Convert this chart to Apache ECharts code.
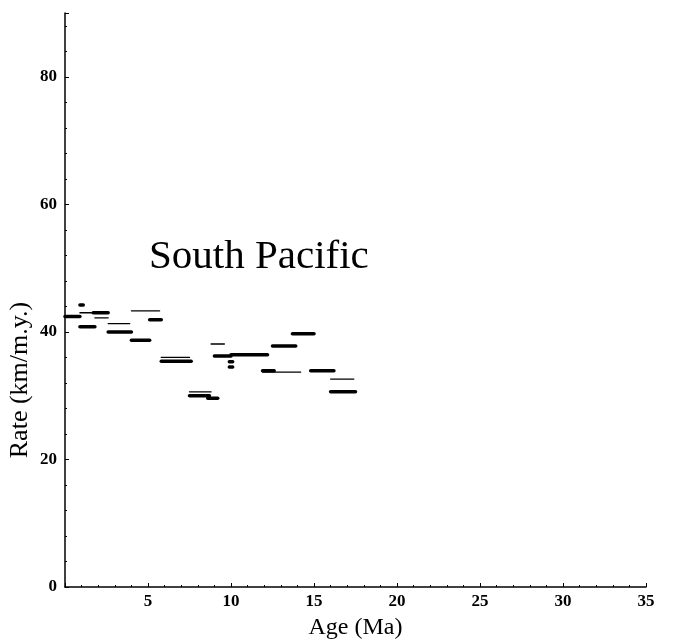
<!DOCTYPE html>
<html>
<head>
<meta charset="utf-8">
<script src="https://cdn.jsdelivr.net/npm/echarts@6/dist/echarts.min.js"></script>
<style>
  html, body { margin: 0; padding: 0; background: #fff; }
  #chart { width: 673px; height: 639px; }
</style>
</head>
<body>
<div id="chart"></div>
<script>
// segment start age, end age (Ma), rate (km/m.y.), thick (1) or thin (0)
var ageFrom = [0.0, 0.9, 0.9, 0.9, 1.7, 1.8, 2.6, 2.6, 4.0, 4.0, 5.1, 5.8, 5.8, 7.5, 7.5, 8.6, 8.8, 9.0, 9.9, 9.9, 10.0, 11.9, 11.9, 12.5, 13.7, 14.8, 16.0, 16.0];
var ageTo   = [0.9, 1.1, 1.8, 1.7, 2.6, 2.6, 3.9, 4.0, 5.1, 5.7, 5.8, 7.5, 7.6, 8.8, 8.7, 9.2, 9.6, 10.0, 10.1, 10.1, 12.2, 14.2, 12.6, 13.9, 15.0, 16.2, 17.4, 17.5];
var rates   = [42.4, 44.2, 40.8, 43.0, 43.0, 42.2, 41.3, 40.0, 38.7, 43.3, 41.9, 36.0, 35.4, 30.6, 30.0, 29.6, 38.1, 36.2, 35.3, 34.5, 36.4, 33.7, 33.9, 37.8, 39.7, 33.9, 32.6, 30.6];
var thick   = [1, 1, 1, 0, 1, 0, 0, 1, 1, 0, 1, 0, 1, 0, 1, 1, 0, 1, 1, 1, 1, 0, 1, 1, 1, 1, 0, 1];

var xTicks = [5, 10, 15, 20, 25, 30, 35];
var yTicks = [0, 20, 40, 60, 80];

var chartDom = document.getElementById('chart');
var myChart = echarts.init(chartDom);

var segData = [];
for (var i = 0; i < rates.length; i++) {
    segData.push([ageFrom[i], ageTo[i], rates[i], thick[i]]);
}

var serif = '"Liberation Serif", "DejaVu Serif", serif';

var option = {
    animation: false,
    backgroundColor: '#fff',
    title: {
        text: 'South Pacific',
        left: 144,
        top: 232,
        textStyle: {
            fontFamily: serif,
            fontSize: 41,
            fontWeight: 'normal',
            color: '#000'
        }
    },
    grid: {
        left: 65,
        right: 27,
        top: 13,
        bottom: 52,
        outerBoundsMode: 'none',
        containLabel: false
    },
    xAxis: {
        type: 'value',
        min: 0,
        max: 35,
        interval: 5,
        name: 'Age (Ma)',
        nameLocation: 'middle',
        nameGap: 29,
        nameTextStyle: { fontFamily: serif, fontSize: 24, color: '#000' },
        axisLine: { lineStyle: { color: '#000', width: 1.5 } },
        axisTick: { inside: true, length: 4, lineStyle: { color: '#000' } },
        minorTick: { show: true, splitNumber: 5, length: 2, lineStyle: { color: '#000' } },
        splitLine: { show: false },
        axisLabel: {
            fontFamily: serif,
            fontSize: 17,
            fontWeight: 'bold',
            color: '#000',
            margin: 6,
            formatter: function (v) {
                return xTicks.indexOf(v) >= 0 ? String(v) : '';
            }
        }
    },
    yAxis: {
        type: 'value',
        min: 0,
        max: 90,
        interval: 20,
        name: 'Rate (km/m.y.)',
        nameLocation: 'middle',
        nameGap: 32,
        nameMoveOverlap: false,
        nameTextStyle: {
            fontFamily: serif,
            fontSize: 26,
            color: '#000',
            padding: [0, 160, 0, 0]
        },
        axisLine: { show: true, lineStyle: { color: '#000', width: 1.5 } },
        axisTick: { show: true, inside: true, length: 4, lineStyle: { color: '#000' } },
        minorTick: { show: true, splitNumber: 5, length: 2, lineStyle: { color: '#000' } },
        splitLine: { show: false },
        axisLabel: {
            fontFamily: serif,
            fontSize: 17,
            fontWeight: 'bold',
            color: '#000',
            margin: 8,
            formatter: function (v) {
                return yTicks.indexOf(v) >= 0 ? String(v) : '';
            }
        }
    },
    series: [{
        type: 'custom',
        renderItem: function (params, api) {
            var p1 = api.coord([api.value(0), api.value(2)]);
            var p2 = api.coord([api.value(1), api.value(2)]);
            var w = api.value(3) ? 3.5 : 1.3;
            return {
                type: 'line',
                shape: { x1: p1[0], y1: p1[1], x2: p2[0], y2: p2[1] },
                style: { stroke: '#000', lineWidth: w, lineCap: 'round' }
            };
        },
        encode: { x: [0, 1], y: 2 },
        data: segData
    }]
};

option && myChart.setOption(option);
</script>
</body>
</html>
